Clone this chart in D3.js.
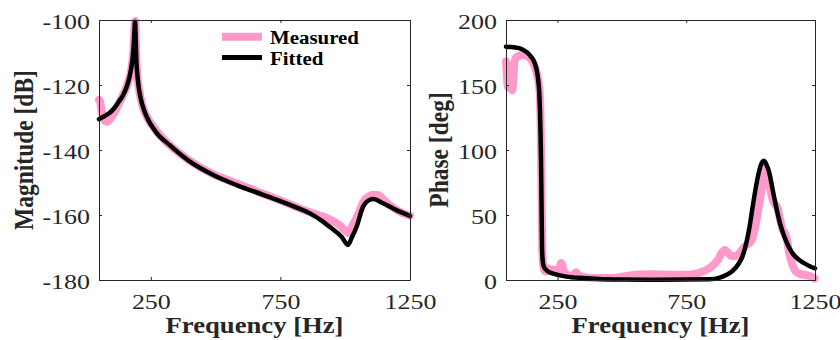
<!DOCTYPE html>
<html>
<head>
<meta charset="utf-8">
<script src="https://cdn.jsdelivr.net/npm/d3@7"></script>
<style>
  html, body { margin: 0; padding: 0; background: #fff; }
  svg { display: block; font-family: "Liberation Serif", "Times New Roman", serif; }
</style>
</head>
<body>
<svg id="chart" width="840" height="340"></svg>
<script>
// ---------------- data ----------------
const freqTicks = [250, 750, 1250];
const magTicks = [-180, -160, -140, -120, -100];
const phaseTicks = [0, 50, 100, 150, 200];
const seriesNames = ["Measured", "Fitted"];

// Magnitude, measured
const magMeasFreq = [50, 54, 58, 64, 72, 82, 95, 110, 125, 140, 152, 165, 175, 182, 186, 189, 192, 196, 205, 220, 240, 270, 320, 400, 490, 590, 680, 760, 850, 890, 920, 950, 980, 1000, 1012, 1030, 1050, 1070, 1090, 1110, 1130, 1150, 1180, 1210, 1240, 1250];
const magMeas = [-124.5, -125, -127, -129.5, -131, -131.3, -130.3, -128.5, -126, -123.5, -121.5, -118.5, -115, -110, -104, -100.3, -106, -115, -121.5, -127, -130.5, -134, -138.3, -143.3, -147.4, -150.5, -153.4, -155.8, -158.8, -159.9, -160.6, -161.8, -163.3, -164.8, -165.5, -163, -160, -156, -154.3, -153.8, -154, -155.5, -157.5, -159, -160, -160.2];

// Magnitude, fitted
const magFitFreq = [50, 70, 89, 110, 127, 145, 160, 172, 180, 184, 187, 189, 191, 194, 200, 211, 225, 237, 269, 324, 401, 491, 581, 684, 787, 864, 910, 941, 986, 1011, 1025, 1044, 1069, 1090, 1108, 1146, 1198, 1250];
const magFit = [-130.5, -129.6, -128.7, -127, -125.1, -122.8, -119.8, -115.9, -111.5, -107.5, -103, -100.5, -104, -112, -118.5, -124.1, -128, -130.3, -134.4, -138.6, -143.6, -147.7, -150.8, -153.8, -156.9, -159.5, -161.8, -163.7, -166.7, -169.2, -167, -163.6, -157.4, -155.5, -155.1, -156.4, -158.5, -160.3];

// Phase, measured
const phMeasFreq = [50, 53, 56, 59, 62, 65, 68, 71, 74, 77, 81, 86, 95, 115, 135, 150, 162, 172, 178, 182, 185, 187, 189, 191, 194, 198, 205, 212, 220, 232, 245, 258, 263, 268, 274, 290, 310, 322, 330, 360, 400, 450, 500, 550, 600, 650, 700, 760, 800, 830, 855, 875, 888, 900, 912, 925, 945, 962, 976, 992, 1004, 1015, 1022, 1032, 1041, 1050, 1058, 1063, 1068, 1076, 1086, 1096, 1105, 1115, 1124, 1133, 1140, 1150, 1162, 1176, 1195, 1215, 1230, 1248];
const phMeas = [168, 158, 150, 148, 155, 165, 160, 150, 146, 150, 163, 170, 172, 173, 172, 169, 164, 157, 150, 140, 115, 85, 55, 25, 12, 8, 6.5, 9, 7, 8, 7, 9, 13, 12, 7, 4, 3.5, 6, 4, 2, 1.5, 1.5, 2.5, 4, 4.5, 4.2, 4, 4, 5.5, 8, 11.5, 16, 21, 23, 21, 18.5, 18.5, 22, 25.6, 28, 30.5, 38, 45, 57, 67, 78, 86, 85, 80, 70, 61.5, 58, 55, 46, 38.5, 36, 32, 20.5, 12, 6.4, 4.5, 3.8, 3, 1.3];

// Phase, fitted
const phFitFreq = [50, 80, 104, 125, 136, 148, 156, 163, 169, 175, 179, 182, 184, 186, 187, 188.5, 190, 193, 197, 205, 214, 240, 285, 350, 414, 500, 647, 841, 880, 905, 930, 950, 968, 983, 996, 1008, 1021, 1034, 1043, 1051, 1060, 1073, 1086, 1099, 1115, 1131, 1147, 1163, 1185, 1209, 1230, 1250];
const phFit = [179.5, 179, 178.2, 176, 174.4, 171.5, 169.2, 166, 161.5, 154, 144.9, 130, 114, 92, 75.6, 50, 24.4, 14, 10.3, 8, 6.4, 4.5, 2.6, 1.5, 0.8, 0.4, 0.2, 0.5, 1.8, 3.8, 7, 11.5, 18, 28.2, 41, 56.4, 72, 84.6, 90, 91.8, 89.5, 82, 69, 56.4, 43, 33.3, 26, 20.5, 16, 12.8, 10.6, 9];

// ---------------- styling ----------------
const axisColor = "#262626";
const pink = "#ff99cc";
const black = "#000000";
const sx = 1.18; // horizontal stretch of the original text

const svg = d3.select("#chart");

function drawPanel(opts) {
  const { left, right, top, bottom, yDomain, yTicks, ylabel, ylabelX, meas, fit } = opts;
  const x = d3.scaleLinear().domain([50, 1250]).range([left, right]);
  const y = d3.scaleLinear().domain(yDomain).range([bottom, top]);
  const g = svg.append("g");

  // lines
  const line = d3.line().x(d => x(d[0])).y(d => y(d[1])).curve(d3.curveMonotoneX);
  g.append("path").datum(meas)
    .attr("d", line).attr("fill", "none").attr("stroke", pink)
    .attr("stroke-width", 8).attr("stroke-linecap", "round").attr("stroke-linejoin", "round");
  g.append("path").datum(fit)
    .attr("d", line).attr("fill", "none").attr("stroke", black)
    .attr("stroke-width", 4.5).attr("stroke-linecap", "round").attr("stroke-linejoin", "round");

  // axes (box with inward ticks)
  const bottomAx = g.append("g").attr("transform", `translate(0,${bottom})`)
    .call(d3.axisBottom(x).tickValues(freqTicks).tickSizeInner(-3).tickSizeOuter(0).tickFormat(d3.format("d")));
  const topAx = g.append("g").attr("transform", `translate(0,${top})`)
    .call(d3.axisTop(x).tickValues(freqTicks).tickSizeInner(-3).tickSizeOuter(0).tickFormat(""));
  const leftAx = g.append("g").attr("transform", `translate(${left},0)`)
    .call(d3.axisLeft(y).tickValues(yTicks).tickSizeInner(-3).tickSizeOuter(0).tickFormat(d => String(d)));
  const rightAx = g.append("g").attr("transform", `translate(${right},0)`)
    .call(d3.axisRight(y).tickValues(yTicks).tickSizeInner(-3).tickSizeOuter(0).tickFormat(""));

  [bottomAx, topAx, leftAx, rightAx].forEach(a => {
    a.selectAll("path, line").attr("stroke", axisColor).attr("stroke-width", 1);
    a.attr("font-family", null).attr("font-size", null);
  });

  bottomAx.selectAll("text")
    .attr("y", null).attr("dy", null)
    .attr("fill", axisColor).attr("font-size", 22)
    .attr("text-anchor", "middle")
    .attr("transform", `translate(0,29) scale(${sx},1)`);
  leftAx.selectAll("text")
    .attr("x", null).attr("dy", null)
    .attr("fill", axisColor).attr("font-size", 22)
    .attr("text-anchor", "end")
    .attr("transform", `translate(-9,8) scale(${sx},1)`);

  // axis titles
  svg.append("text")
    .attr("transform", `translate(${(left + right) / 2},333) scale(1.16,1)`)
    .attr("text-anchor", "middle").attr("font-weight", "bold").attr("font-size", 23)
    .attr("fill", axisColor).text("Frequency [Hz]");
  svg.append("text")
    .attr("transform", `translate(${ylabelX},${(top + bottom) / 2}) scale(1.2,1) rotate(-90)`)
    .attr("text-anchor", "middle").attr("font-weight", "bold").attr("font-size", 23.5)
    .attr("fill", axisColor).text(ylabel);
  return { x, y };
}

const zip = (a, b) => a.map((v, i) => [v, b[i]]);

drawPanel({
  left: 99, right: 410, top: 20, bottom: 280,
  yDomain: [-180, -100], yTicks: magTicks, ylabel: "Magnitude [dB]", ylabelX: 33,
  meas: zip(magMeasFreq, magMeas), fit: zip(magFitFreq, magFit)
});
drawPanel({
  left: 506, right: 815, top: 20, bottom: 280,
  yDomain: [0, 200], yTicks: phaseTicks, ylabel: "Phase [deg]", ylabelX: 448,
  meas: zip(phMeasFreq, phMeas), fit: zip(phFitFreq, phFit)
});

// legend
const legend = svg.append("g");
const legendItems = [
  { name: seriesNames[0], color: pink, width: 8, y: 36.7 },
  { name: seriesNames[1], color: black, width: 5, y: 57.5 }
];
legendItems.forEach(it => {
  legend.append("line").attr("x1", 222).attr("x2", 262).attr("y1", it.y).attr("y2", it.y)
    .attr("stroke", it.color).attr("stroke-width", it.width);
  legend.append("text")
    .attr("transform", `translate(270,${it.y + 7}) scale(1.1,1)`)
    .attr("font-weight", "bold").attr("font-size", 19).attr("fill", "#000")
    .text(it.name);
});
</script>
</body>
</html>
